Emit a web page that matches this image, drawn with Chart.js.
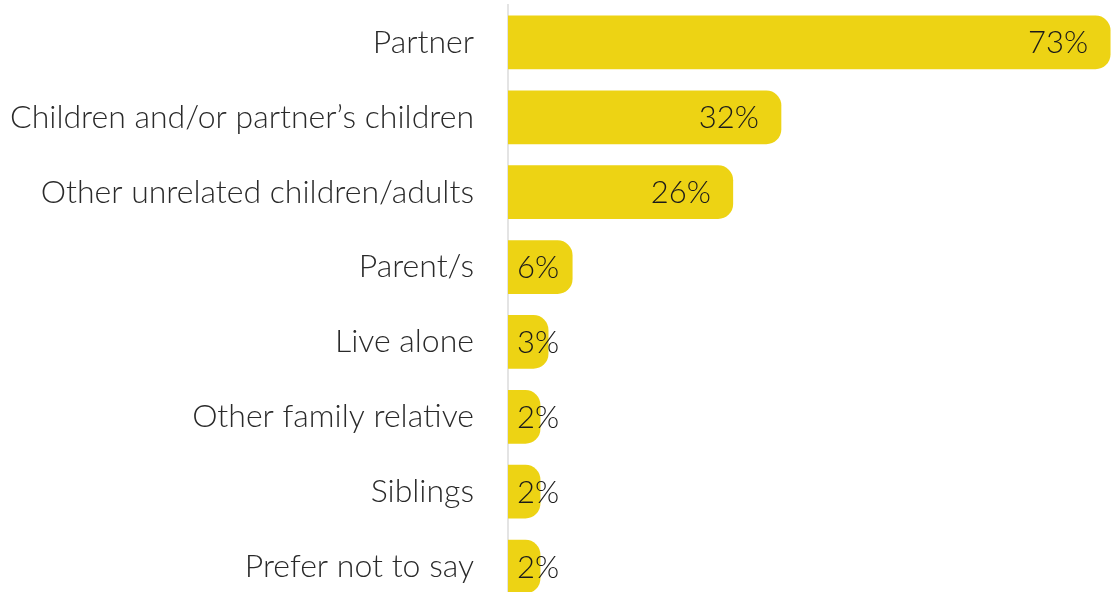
<!DOCTYPE html>
<html>
<head>
<meta charset="utf-8">
<script src="https://cdn.jsdelivr.net/npm/chart.js@4.4.1/dist/chart.umd.min.js"></script>
<style>
  html, body { margin: 0; padding: 0; background: #fff; overflow: hidden; }
  #chart { display: block; }
</style>
</head>
<body>
<canvas id="chart" width="1111" height="604"></canvas>
<script>
const categories = [
  "Partner",
  "Children and/or partner\u2019s children",
  "Other unrelated children/adults",
  "Parent/s",
  "Live alone",
  "Other family relative",
  "Siblings",
  "Prefer not to say",
];
const shares = [73, 32, 26, 6, 3, 2, 2, 2];

const FONT = "'Lato', 'Open Sans', sans-serif";

// ------------ value labels ----------------
const valueLabels = {
  id: "valueLabels",
  afterDatasetsDraw(chart) {
    const ctx = chart.ctx;
    const meta = chart.getDatasetMeta(0);
    ctx.save();
    ctx.font = "300 31px " + FONT;
    ctx.fillStyle = "#1a1a1a";
    ctx.textAlign = "right";
    ctx.textBaseline = "middle";
    meta.data.forEach((bar, i) => {
      const txt = shares[i] + "%";
      const w = ctx.measureText(txt).width;
      const right = Math.max(bar.x - 22, bar.base + 9 + w);
      ctx.fillText(txt, right, bar.y + 1);
    });
    ctx.restore();
  },
};

new Chart(document.getElementById("chart"), {
  type: "bar",
  data: {
    labels: categories,
    datasets: [
      {
        data: shares,
        backgroundColor: "#EDD314",
        borderRadius: 15,
        borderSkipped: "start",
        barThickness: 53,
        base: -2,
      },
    ],
  },
  options: {
    indexAxis: "y",
    responsive: false,
    animation: false,
    layout: { padding: { top: 5, bottom: 0, left: 0, right: 0 } },
    plugins: { legend: { display: false }, tooltip: { enabled: false } },
    scales: {
      x: { display: false, min: -2, max: 73.1 },
      y: {
        afterFit: (s) => {
          s.width = 508;
          s.paddingTop = 0;
          s.paddingBottom = 0;
        },
        grid: { display: false, drawTicks: false },
        border: { display: true, color: "#e4e4e4", width: 2 },
        ticks: {
          padding: 34,
          color: "#2a2a2a",
          font: { family: FONT, size: 32, weight: "300" },
        },
      },
    },
  },
  plugins: [valueLabels],
});
</script>
</body>
</html>
